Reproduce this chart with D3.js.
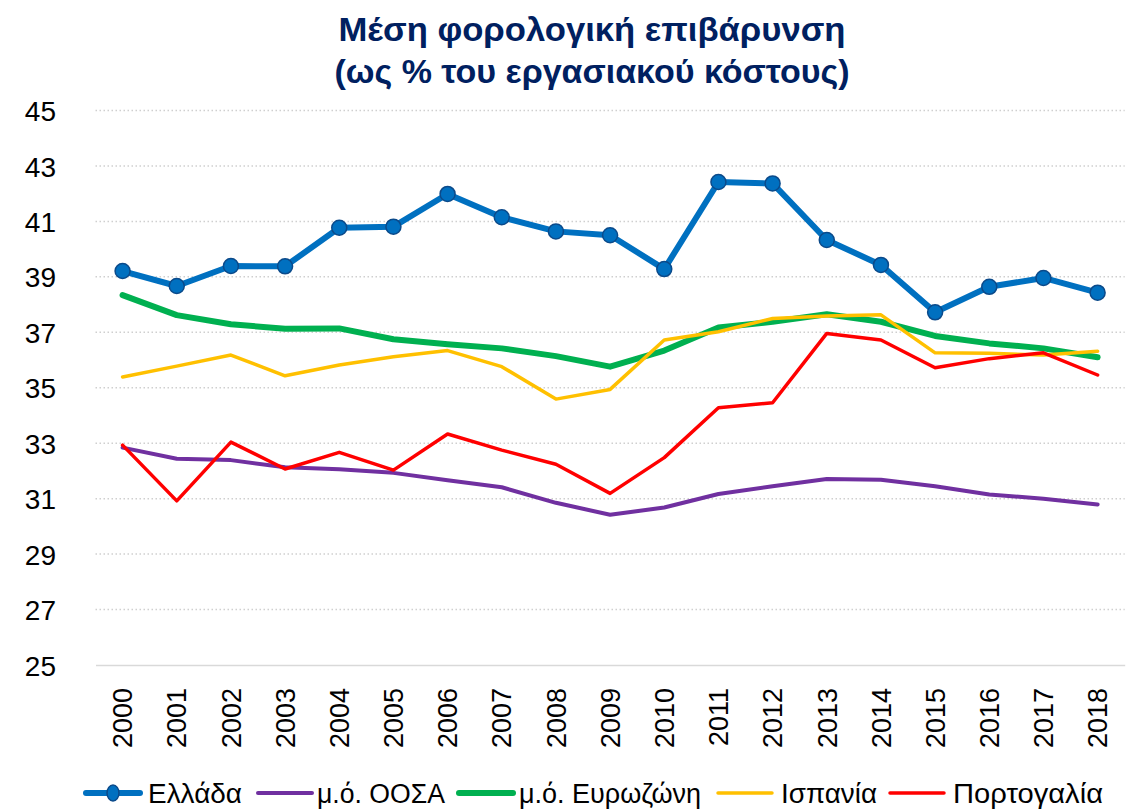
<!DOCTYPE html>
<html>
<head>
<meta charset="utf-8">
<script src="https://cdn.jsdelivr.net/npm/d3@7"></script>
<style>
  html, body { margin: 0; padding: 0; background: #fff; }
  svg { display: block; }
</style>
</head>
<body>
<svg id="chart" width="1128" height="809"></svg>
<script>
const years = ["2000","2001","2002","2003","2004","2005","2006","2007","2008","2009","2010","2011","2012","2013","2014","2015","2016","2017","2018"];
const yTicks = [25,27,29,31,33,35,37,39,41,43,45];
const titleLines = ["Μέση φορολογική επιβάρυνση", "(ως % του εργασιακού κόστους)"];

const greece   = [39.21,38.67,39.39,39.38,40.77,40.81,41.99,41.15,40.64,40.50,39.28,42.42,42.37,40.33,39.43,37.72,38.64,38.96,38.43];
const oecd     = [32.84,32.44,32.39,32.13,32.06,31.93,31.66,31.41,30.85,30.42,30.68,31.17,31.45,31.71,31.68,31.45,31.15,31.00,30.79];
const eurozone = [38.34,37.62,37.29,37.13,37.14,36.75,36.57,36.42,36.14,35.76,36.34,37.17,37.38,37.65,37.38,36.87,36.60,36.42,36.10];
const spain    = [35.39,35.78,36.18,35.43,35.82,36.12,36.34,35.76,34.59,34.94,36.72,37.02,37.50,37.59,37.63,36.26,36.24,36.18,36.32];
const portugal = [32.93,30.92,33.04,32.07,32.67,32.03,33.33,32.75,32.24,31.19,32.48,34.28,34.46,36.96,36.72,35.72,36.05,36.26,35.46];

const seriesNames = ["Ελλάδα","μ.ό. ΟΟΣΑ","μ.ό. Ευρωζώνη","Ισπανία","Πορτογαλία"];
const seriesValues = [greece, oecd, eurozone, spain, portugal];

(function(){
const styles = [
  {color:"#0070C0", width:6, marker:true},
  {color:"#7030A0", width:4},
  {color:"#00B050", width:6},
  {color:"#FFC000", width:3.5},
  {color:"#FF0000", width:3.5}
];

const svg = d3.select("#chart");
const pLeft = 95.5, pRight = 1124.7, pTop = 110.5, pBottom = 665;
const font = "'Liberation Sans', Arial, sans-serif";

const x = d3.scalePoint().domain(years).range([pLeft, pRight]).padding(0.5);
const y = d3.scaleLinear().domain([25,45]).range([pBottom, pTop]);

// gridlines
svg.append("g").selectAll("line")
  .data(yTicks.filter(d => d !== 25))
  .join("line")
  .attr("x1", pLeft).attr("x2", pRight)
  .attr("y1", d => y(d)).attr("y2", d => y(d))
  .attr("stroke", "#cfcfcf").attr("stroke-width", 1.5)
  .attr("stroke-dasharray", "1.5,2.5");

// x axis line
const xAxis = d3.axisBottom(x).tickSize(0).tickFormat("");
svg.append("g").attr("transform", `translate(0,${pBottom})`).call(xAxis)
  .call(g => g.select(".domain").attr("stroke", "#d9d9d9").attr("stroke-width", 1.5));

// y axis labels
const yAxis = d3.axisLeft(y).tickValues(yTicks).tickSize(0).tickPadding(0);
svg.append("g").attr("transform", `translate(56,0)`).call(yAxis)
  .call(g => g.select(".domain").remove())
  .call(g => g.selectAll("text")
    .attr("font-family", font).attr("font-size", 28).attr("fill", "#000")
    .attr("dy", "0.36em"));

// x labels
svg.append("g").selectAll("text")
  .data(years).join("text")
  .attr("transform", d => `translate(${x(d)},688) rotate(-90)`)
  .attr("text-anchor", "end")
  .attr("dy", "0.36em")
  .attr("font-family", font).attr("font-size", 27).attr("fill", "#000")
  .text(d => d);

// lines (others first, Greece last on top)
const line = d3.line().x((d,i) => x(years[i])).y(d => y(d));
const order = [1,2,3,4,0];
order.forEach(si => {
  const st = styles[si];
  svg.append("path")
    .datum(seriesValues[si])
    .attr("d", line)
    .attr("fill", "none")
    .attr("stroke", st.color)
    .attr("stroke-width", st.width)
    .attr("stroke-linejoin", "round")
    .attr("stroke-linecap", "round");
  if (st.marker) {
    svg.append("g").selectAll("circle")
      .data(seriesValues[si]).join("circle")
      .attr("cx", (d,i) => x(years[i])).attr("cy", d => y(d))
      .attr("r", 7.5)
      .attr("fill", "#0070C0")
      .attr("stroke", "#0B4A8A").attr("stroke-width", 1.5);
  }
});

// title
const title = svg.append("g");
const titleTargets = [{y: 41, w: 507}, {y: 83, w: 515}];
titleLines.forEach((t, i) => {
  title.append("text")
    .attr("x", 592).attr("y", titleTargets[i].y)
    .attr("text-anchor", "middle")
    .attr("font-family", font).attr("font-weight", "bold")
    .attr("font-size", 34).attr("fill", "#002060")
    .attr("textLength", titleTargets[i].w)
    .attr("lengthAdjust", "spacingAndGlyphs")
    .text(t);
});

// legend
const legendItems = [
  {x1: 86, tx: 148, w: 94},
  {x1: 258, tx: 317, w: 128},
  {x1: 459, tx: 519, w: 182},
  {x1: 718, tx: 781, w: 96},
  {x1: 890, tx: 953, w: 150}
];
const ly = 793;
const lg = svg.append("g");
seriesNames.forEach((name, i) => {
  const st = styles[i];
  const it = legendItems[i];
  lg.append("line")
    .attr("x1", it.x1).attr("x2", it.x1 + 54)
    .attr("y1", ly).attr("y2", ly)
    .attr("stroke", st.color).attr("stroke-width", st.width)
    .attr("stroke-linecap", "round");
  if (st.marker) {
    lg.append("ellipse")
      .attr("cx", it.x1 + 27).attr("cy", ly).attr("rx", 6).attr("ry", 8)
      .attr("fill", "#0070C0").attr("stroke", "#0B4A8A").attr("stroke-width", 1.5);
  }
  lg.append("text")
    .attr("x", it.tx).attr("y", ly).attr("dy", "0.36em")
    .attr("font-family", font).attr("font-size", 27).attr("fill", "#000")
    .attr("textLength", it.w).attr("lengthAdjust", "spacingAndGlyphs")
    .text(name);
});
})();
</script>
</body>
</html>
